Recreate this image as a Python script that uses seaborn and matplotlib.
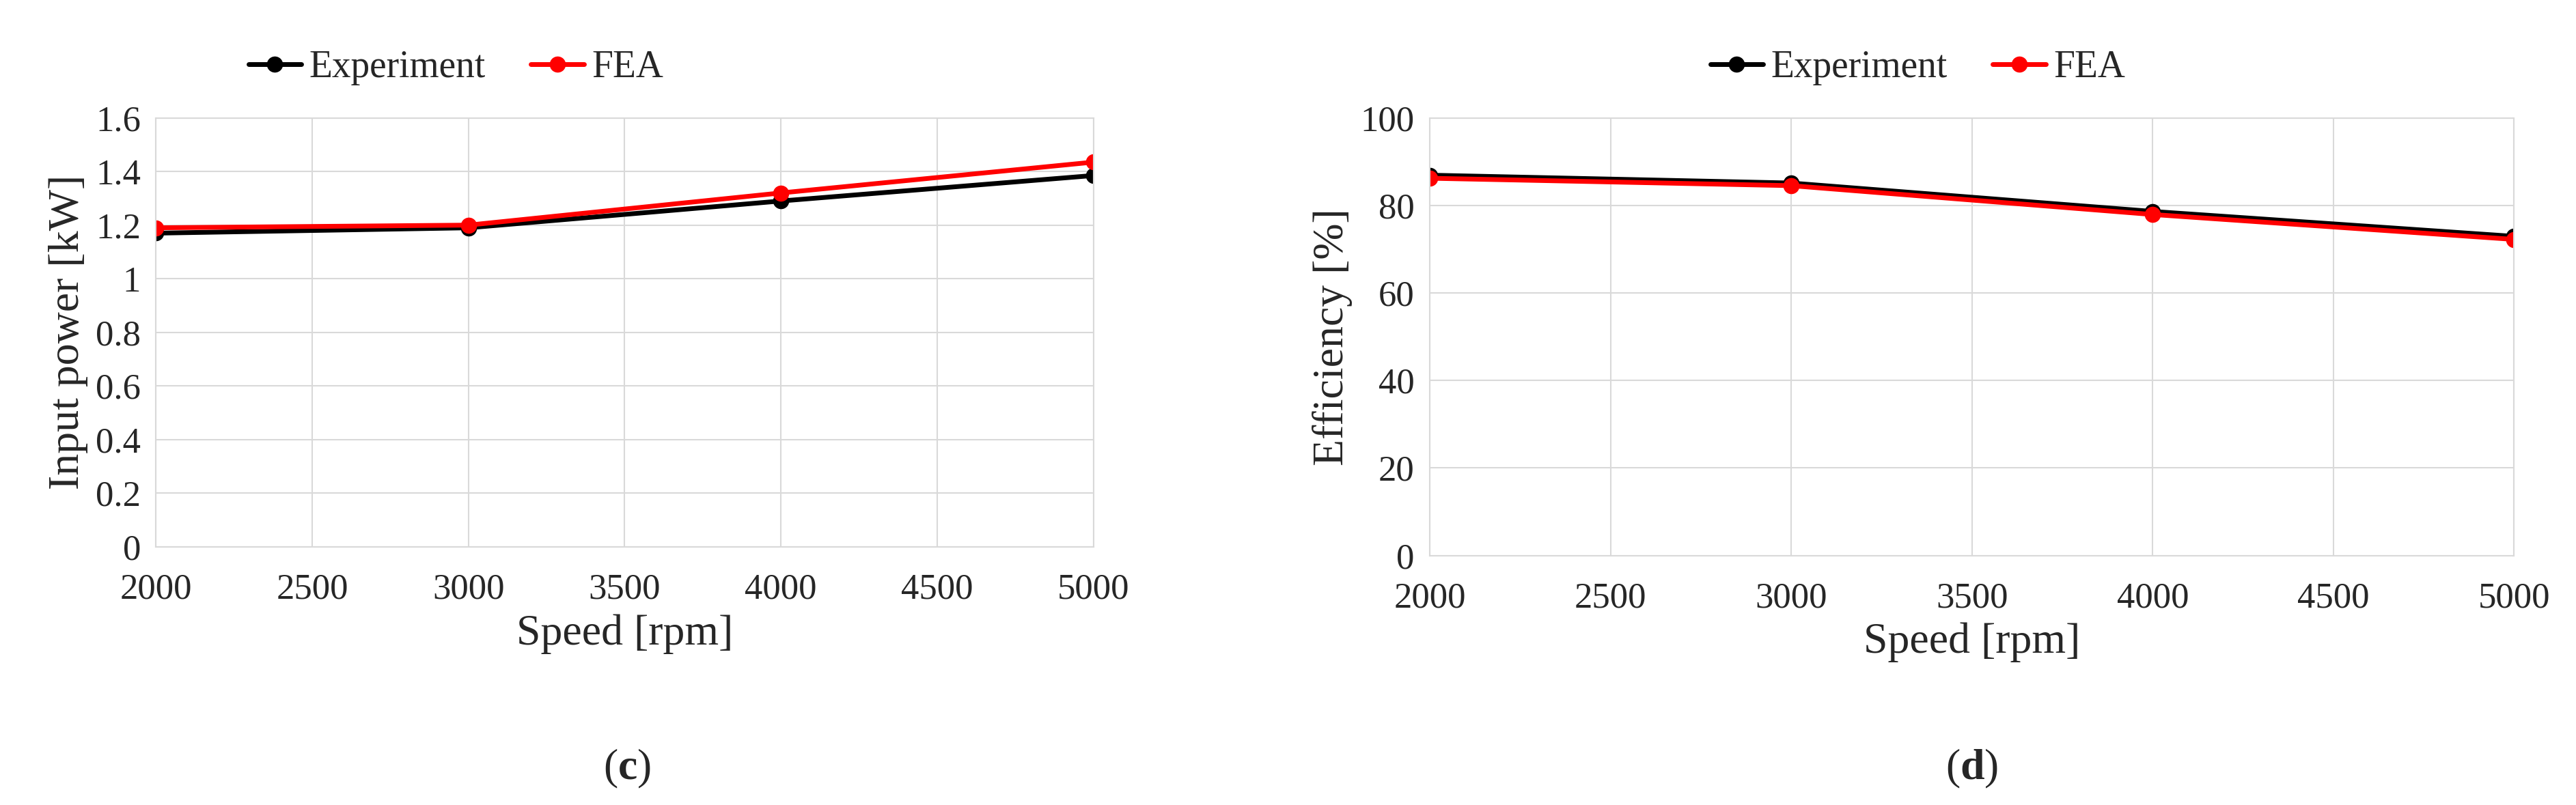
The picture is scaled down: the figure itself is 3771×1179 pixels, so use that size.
import matplotlib
matplotlib.use('Agg')
import matplotlib.pyplot as plt
import seaborn as sns
import pandas as pd

speed = [2000, 3000, 4000, 5000]
power_exp = [1.17, 1.19, 1.29, 1.385]
power_fea = [1.19, 1.20, 1.32, 1.435]
eff_exp = [87.0, 85.2, 78.7, 73.0]
eff_fea = [86.3, 84.6, 78.0, 72.3]

sns.set_style("white")
plt.rcParams['font.family'] = ['Liberation Serif', 'DejaVu Serif']
plt.rcParams['mathtext.fontset'] = 'custom'
plt.rcParams['mathtext.bf'] = 'Liberation Serif:bold'
plt.rcParams['mathtext.rm'] = 'Liberation Serif'

fig = plt.figure(figsize=(37.71, 11.79), dpi=100)
ax1 = fig.add_axes([0.0605, 0.3206, 0.364, 0.533])
ax2 = fig.add_axes([0.555, 0.310, 0.421, 0.543])

palette = {'Experiment': 'black', 'FEA': 'red'}


def draw(ax, exp, fea, ylim, yticks, ylabel, legend_x, caption, cap_x):
    df = pd.DataFrame({
        'Speed': speed * 2,
        'Value': exp + fea,
        'Series': ['Experiment'] * 4 + ['FEA'] * 4,
    })
    sns.lineplot(data=df, x='Speed', y='Value', hue='Series', palette=palette,
                 marker='o', markersize=17, linewidth=5, markeredgewidth=0, ax=ax)
    ax.set_xlim(2000, 5000)
    ax.set_ylim(*ylim)
    ax.set_xticks(range(2000, 5001, 500))
    ax.set_yticks(yticks)
    ax.set_yticklabels([f'{t:g}' for t in yticks])
    ax.tick_params(labelsize=38, length=0)
    ax.tick_params(axis='x', pad=28)
    ax.tick_params(axis='y', pad=16)
    ax.grid(True, color='#d9d9d9', linewidth=1.5)
    for s in ax.spines.values():
        s.set_color('#d9d9d9')
        s.set_linewidth(1.5)
    ax.set_xlabel('Speed [rpm]', fontsize=46, labelpad=8)
    ax.set_ylabel(ylabel, fontsize=46, labelpad=8)
    ax.legend(loc='lower center', bbox_to_anchor=(legend_x, 1.04), ncol=2,
              frameon=False, fontsize=40, handlelength=1.4, columnspacing=1.2,
              handletextpad=0.2, borderaxespad=0)
    fig.text(cap_x, 0.045, caption, ha='center', va='center', fontsize=46)


draw(ax1, power_exp, power_fea, (0, 1.6), [0, 0.2, 0.4, 0.6, 0.8, 1, 1.2, 1.4, 1.6],
     'Input power [kW]', 0.32, '($\\mathbf{c}$)', 0.2435)
draw(ax2, eff_exp, eff_fea, (0, 100), [0, 20, 40, 60, 80, 100],
     'Efficiency [%]', 0.45, '($\\mathbf{d}$)', 0.7655)

fig.savefig('out.png', dpi=100)
